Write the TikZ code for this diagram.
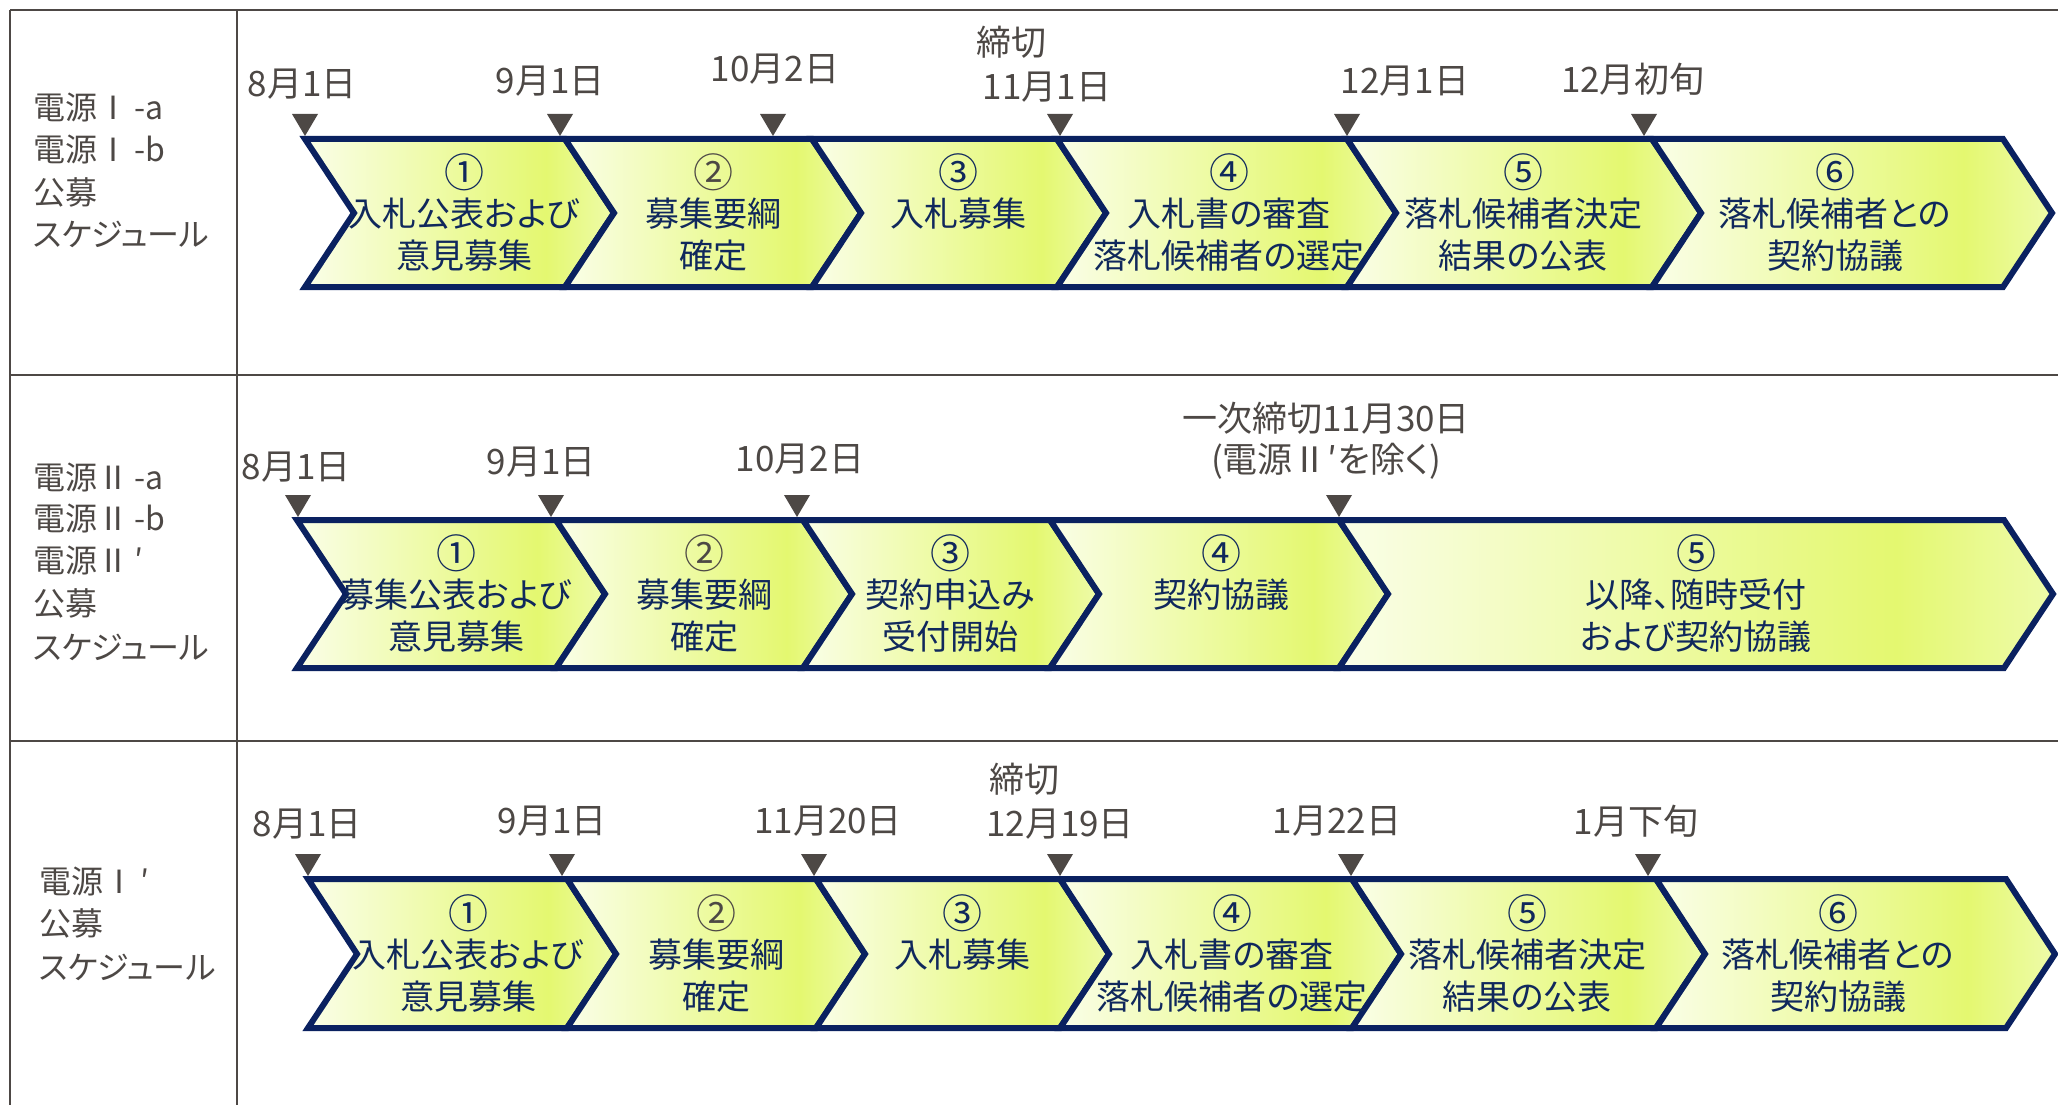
\documentclass[tikz,border=0pt]{standalone}
\usepackage{fontspec}
\setmainfont{Noto Sans CJK JP}[RawFeature=+palt]
\definecolor{gridgray}{RGB}{77,72,69}
\definecolor{navy}{RGB}{10,33,96}
\definecolor{txtnavy}{RGB}{16,40,92}
\definecolor{cpale}{RGB}{250,254,232}
\definecolor{clime}{RGB}{228,248,112}
\definecolor{cend}{RGB}{238,251,170}
\pgfdeclarehorizontalshading{chevshade}{100bp}{color(0bp)=(cpale); color(25bp)=(cpale); color(64bp)=(clime); color(75bp)=(cend); color(100bp)=(cend)}
\def\cd{49}
\tikzset{
  gridline/.style={draw=gridgray, line width=2.6},
  chevron/.style={draw=navy, line width=6, line join=miter, shading=chevshade},
  tmarker/.style={fill=gridgray},
  datelbl/.style={font=\fontsize{35}{42}\selectfont, text=gridgray, inner sep=0, text height=28pt, text depth=1.4pt, anchor=center},
  chevtxt/.style={font=\fontsize{34}{42}\selectfont, text=txtnavy, inner sep=0, text height=27.2pt, text depth=1.36pt, anchor=center},
  chevnum/.style={font=\fontsize{40}{42}\selectfont, text=txtnavy, inner sep=0, text height=32pt, text depth=1.6pt, anchor=center},
  numgray/.style={text=gridgray},
  rowlbl/.style={font=\fontsize{32}{42}\selectfont, text=gridgray, inner sep=0, text height=25.6pt, text depth=1.28pt, anchor=west},
}
\newcommand\chev[5]{\shadedraw[chevron] (#1,#3) -- (#2,#3) -- (#2+\cd,#4) -- (#2,#5) -- (#1,#5) -- (#1+\cd,#4) -- cycle;}
\newcommand\tmk[2]{\fill[tmarker] (#1-13,#2-25) -- (#1+13,#2-25) -- (#1,#2-3) -- cycle;}
\newcommand\ctext[7][]{%
  \node[chevnum,#1] (#2n) at (#3,#4-41) {#5};
  \node[chevtxt] (#2a) at (#3,#4+1) {#6};
  \node[chevtxt] (#2b) at (#3,#4+43) {#7};}
\newcommand\ctextone[6][]{%
  \node[chevnum,#1] (#2n) at (#3,#4-41) {#5};
  \node[chevtxt] (#2a) at (#3,#4+1) {#6};}
\newcommand\gap{\kern5pt}
\begin{document}
\begin{tikzpicture}[x=1pt,y=-1pt]
\useasboundingbox (0,0) rectangle (2058,1105);
% table grid
\draw[gridline] (10,10) -- (2058,10);
\draw[gridline] (10,375) -- (2058,375);
\draw[gridline] (10,741) -- (2058,741);
\draw[gridline] (10,10) -- (10,1105);
\draw[gridline] (237,10) -- (237,1105);

% ---------- Row 1 ----------
\node[rowlbl] (r1l1) at (33,107) {電源Ⅰ\gap-a};
\node[rowlbl] (r1l2) at (33,149) {電源Ⅰ\gap-b};
\node[rowlbl] (r1l3) at (33,192) {公募};
\node[rowlbl] (r1l4) at (33,234) {スケジュール};

\chev{305}{565}{139}{213}{287}
\chev{565}{812}{139}{213}{287}
\chev{812}{1057}{139}{213}{287}
\chev{1057}{1347}{139}{213}{287}
\chev{1347}{1652}{139}{213}{287}
\chev{1652}{2003}{139}{213}{287}

\tmk{305}{139}\tmk{560}{139}\tmk{773}{139}\tmk{1060}{139}\tmk{1347}{139}\tmk{1644}{139}

\node[datelbl] (r1d1) at (302,83) {8月1日};
\node[datelbl] (r1d2) at (550,80) {9月1日};
\node[datelbl] (r1d3) at (775,68) {10月2日};
\node[datelbl] (r1d4a) at (1011,42) {締切};
\node[datelbl] (r1d4) at (1047,86) {11月1日};
\node[datelbl] (r1d5) at (1405,80) {12月1日};
\node[datelbl] (r1d6) at (1633,79) {12月初旬};

\ctext{r1c1}{464}{213}{①}{入札公表および}{意見募集}
\ctext[numgray]{r1c2}{713}{213}{②}{募集要綱}{確定}
\ctextone{r1c3}{958}{213}{③}{入札募集}
\ctext{r1c4}{1229}{213}{④}{入札書の審査}{落札候補者の選定}
\ctext{r1c5}{1523}{213}{⑤}{落札候補者決定}{結果の公表}
\ctext{r1c6}{1835}{213}{⑥}{落札候補者との}{契約協議}

% ---------- Row 2 ----------
\node[rowlbl] (r2l1) at (33,477) {電源Ⅱ\gap-a};
\node[rowlbl] (r2l2) at (33,518) {電源Ⅱ\gap-b};
\node[rowlbl] (r2l3) at (33,560) {電源Ⅱ\gap′};
\node[rowlbl] (r2l4) at (33,603) {公募};
\node[rowlbl] (r2l5) at (33,647) {スケジュール};

\chev{297}{556}{520}{594}{668}
\chev{556}{803}{520}{594}{668}
\chev{803}{1050}{520}{594}{668}
\chev{1050}{1339}{520}{594}{668}
\chev{1339}{2004}{520}{594}{668}

\tmk{298}{520}\tmk{551}{520}\tmk{797}{520}\tmk{1339}{520}

\node[datelbl] (r2d1) at (296,466) {8月1日};
\node[datelbl] (r2d2) at (541,461) {9月1日};
\node[datelbl] (r2d3) at (800,458) {10月2日};
\node[datelbl] (r2d4) at (1326,418) {一次締切11月30日};
\node[datelbl] (r2d4b) at (1326,459) {(電源Ⅱ′を除く)};

\ctext{r2c1}{456}{594}{①}{募集公表および}{意見募集}
\ctext[numgray]{r2c2}{704}{594}{②}{募集要綱}{確定}
\ctext{r2c3}{950}{594}{③}{契約申込み}{受付開始}
\ctextone{r2c4}{1221}{594}{④}{契約協議}
\ctext{r2c5}{1696}{594}{⑤}{以降、随時受付}{および契約協議}

% ---------- Row 3 ----------
\node[rowlbl] (r3l1) at (39,881) {電源Ⅰ\gap′};
\node[rowlbl] (r3l2) at (39,923) {公募};
\node[rowlbl] (r3l3) at (39,967) {スケジュール};

\chev{308}{567}{879}{954}{1028}
\chev{567}{816}{879}{954}{1028}
\chev{816}{1060}{879}{954}{1028}
\chev{1060}{1352}{879}{954}{1028}
\chev{1352}{1656}{879}{954}{1028}
\chev{1656}{2006}{879}{954}{1028}

\tmk{308}{879}\tmk{562}{879}\tmk{814}{879}\tmk{1060}{879}\tmk{1351}{879}\tmk{1648}{879}

\node[datelbl] (r3d1) at (307,823) {8月1日};
\node[datelbl] (r3d2) at (552,820) {9月1日};
\node[datelbl] (r3d3) at (828,820) {11月20日};
\node[datelbl] (r3d4a) at (1024,779) {締切};
\node[datelbl] (r3d4) at (1060,823) {12月19日};
\node[datelbl] (r3d5) at (1337,820) {1月22日};
\node[datelbl] (r3d6) at (1636,821) {1月下旬};

\ctext{r3c1}{468}{954}{①}{入札公表および}{意見募集}
\ctext[numgray]{r3c2}{716}{954}{②}{募集要綱}{確定}
\ctextone{r3c3}{962}{954}{③}{入札募集}
\ctext{r3c4}{1232}{954}{④}{入札書の審査}{落札候補者の選定}
\ctext{r3c5}{1527}{954}{⑤}{落札候補者決定}{結果の公表}
\ctext{r3c6}{1838}{954}{⑥}{落札候補者との}{契約協議}
\end{tikzpicture}
\end{document}
